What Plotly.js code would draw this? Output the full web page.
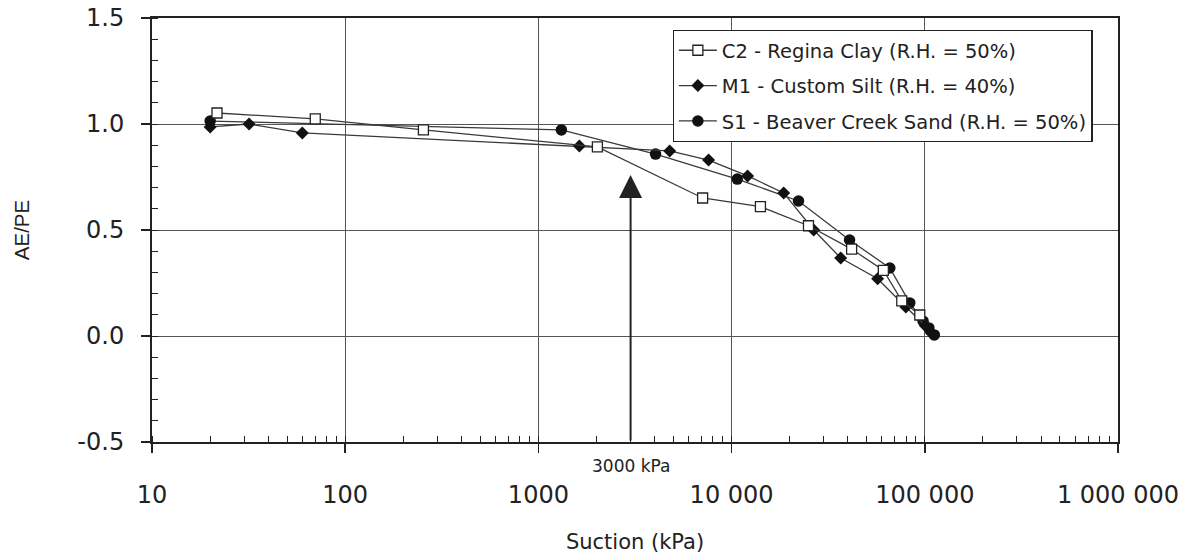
<!DOCTYPE html>
<html>
<head>
<meta charset="utf-8">
<script src="https://cdn.plot.ly/plotly-3.0.1.min.js"></script>
<style>
html,body{margin:0;padding:0;background:#fff;}
#chart{width:1191px;height:556px;}
</style>
</head>
<body>
<div id="chart"></div>
<script>
// Series names
const seriesNames = ["C2 - Regina Clay (R.H. = 50%)", "M1 - Custom Silt (R.H. = 40%)", "S1 - Beaver Creek Sand (R.H. = 50%)"];

// C2 - Regina Clay
const c2Suction = [21.7, 70, 254, 2020, 7080, 14100, 25000, 41800, 61000, 76000, 94200];
const c2Ratio   = [1.052, 1.024, 0.972, 0.892, 0.651, 0.61, 0.52, 0.41, 0.31, 0.166, 0.099];

// M1 - Custom Silt
const m1Suction = [20, 31.8, 60, 1630, 4780, 7600, 12100, 18600, 26600, 36700, 57000, 79800, 101000, 108000];
const m1Ratio   = [0.986, 1.0, 0.958, 0.896, 0.873, 0.83, 0.755, 0.675, 0.50, 0.368, 0.27, 0.137, 0.047, 0.014];

// S1 - Beaver Creek Sand
const s1Suction = [20, 1315, 4040, 10700, 22200, 40800, 65900, 83600, 98000, 105000, 112000];
const s1Ratio   = [1.014, 0.972, 0.858, 0.74, 0.637, 0.453, 0.321, 0.156, 0.07, 0.038, 0.005];

// Axis ticks
const xTickVals = [10, 100, 1000, 10000, 100000, 1000000];
const xTickText = ["10", "100", "1000", "10 000", "100 000", "1 000 000"];
const yTickVals = [-0.5, 0, 0.5, 1.0, 1.5];
const yTickText = ["-0.5", "0.0", "0.5", "1.0", "1.5"];

// Marker annotation
const markerSuction = 3000;
const markerLabel = "3000 kPa";

const lineCol = '#3a3a3a';
const F = 'DejaVu Sans, Liberation Sans, Arial, sans-serif';

const traces = [
  {
    x: s1Suction, y: s1Ratio, name: seriesNames[2], type: 'scatter', mode: 'lines+markers',
    legendrank: 3, legendgroup: 's1',
    line: {color: lineCol, width: 1.3},
    marker: {symbol: 'circle', size: 11.5, color: '#111', line: {color: '#111', width: 0}}
  },
  {
    x: m1Suction, y: m1Ratio, name: seriesNames[1], type: 'scatter', mode: 'lines+markers',
    legendrank: 2, legendgroup: 'm1',
    line: {color: lineCol, width: 1.3},
    marker: {symbol: 'diamond', size: 10, color: '#111', line: {color: '#111', width: 0}}
  },
  {
    x: c2Suction, y: c2Ratio, name: seriesNames[0], type: 'scatter', mode: 'lines+markers',
    legendrank: 1, legendgroup: 'c2',
    line: {color: lineCol, width: 1.3},
    marker: {symbol: 'square', size: 10, color: '#fff', line: {color: '#222', width: 1.3}}
  }
];

const layout = {
  width: 1191, height: 556,
  margin: {l: 152, r: 73, t: 18, b: 114},
  paper_bgcolor: '#fff', plot_bgcolor: '#fff',
  font: {family: F, color: '#222'},
  showlegend: true,
  legend: {
    x: 0.539, y: 0.972, xanchor: 'left', yanchor: 'top',
    bgcolor: '#fff', bordercolor: '#222', borderwidth: 1.2,
    font: {family: F, size: 19.5, color: '#222'},
    itemwidth: 38,
    tracegroupgap: 7
  },
  xaxis: {
    type: 'log', range: [1, 6],
    tickmode: 'array', tickvals: xTickVals, ticktext: xTickText,
    tickfont: {family: F, size: 24, color: '#222'},
    ticks: 'outside', ticklen: 9, tickwidth: 1.5, tickcolor: '#222',
    ticklabelstandoff: 21,
    showgrid: true, gridcolor: '#555', gridwidth: 1,
    showline: true, linecolor: '#222', linewidth: 2, mirror: true,
    zeroline: false,
    minor: {ticks: 'inside', ticklen: 6, tickwidth: 1, tickcolor: '#222', dtick: 'D1', showgrid: false},
    title: {text: 'Suction (kPa)', font: {family: F, size: 21, color: '#222'}, standoff: 27}
  },
  yaxis: {
    range: [-0.5, 1.5],
    tickmode: 'array', tickvals: yTickVals, ticktext: yTickText,
    tickfont: {family: F, size: 24, color: '#222'},
    ticks: 'outside', ticklen: 9, tickwidth: 1.5, tickcolor: '#222',
    ticklabelstandoff: 12,
    showgrid: true, gridcolor: '#555', gridwidth: 1,
    showline: true, linecolor: '#222', linewidth: 2, mirror: true,
    zeroline: false,
    minor: {ticks: 'inside', ticklen: 6, tickwidth: 1, tickcolor: '#222', dtick: 0.1, showgrid: false},
    title: {text: 'AE/PE', font: {family: 'Liberation Sans, Arial, sans-serif', size: 20.5, color: '#222'}, standoff: 42}
  },
  annotations: [
    {
      x: Math.log10(markerSuction), y: 0.76, xref: 'x', yref: 'y',
      ax: Math.log10(markerSuction), ay: -0.5, axref: 'x', ayref: 'y',
      showarrow: true, arrowhead: 2, arrowsize: 2.3, arrowwidth: 2, arrowcolor: '#222',
      text: '', standoff: 0
    },
    {
      x: Math.log10(markerSuction), y: 0, xref: 'x', yref: 'paper',
      yshift: -24, yanchor: 'middle', xanchor: 'center',
      showarrow: false, text: markerLabel,
      font: {family: F, size: 17, color: '#222'}
    }
  ]
};

Plotly.newPlot('chart', traces, layout, {displayModeBar: false, staticPlot: true});
</script>
</body>
</html>
